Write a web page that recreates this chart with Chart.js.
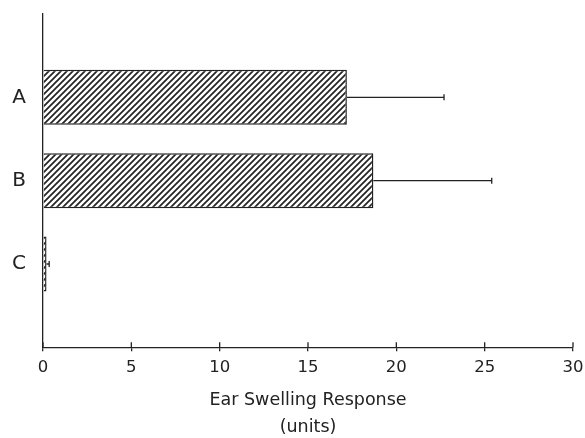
<!DOCTYPE html>
<html>
<head>
<meta charset="utf-8">
<script src="https://cdn.jsdelivr.net/npm/chart.js@4/dist/chart.umd.min.js"></script>
<style>
  body { margin: 0; background: #fff; }
</style>
</head>
<body>
<canvas id="myChart" width="585" height="438"></canvas>
<script>
// values
const categories = ['A', 'B', 'C'];
const means = [17.2, 18.7, 0.2];
const errors = [5.5, 6.7, 0.15];
const xTicks = [0, 5, 10, 15, 20, 25, 30];

// empty slots above and below so the bars sit like the original
const labels = ['', ...categories, ''];
const barData = [null, ...means, null];
const errData = [null, ...errors, null];

const ink = '#222';
const fontFamily = '"DejaVu Sans", sans-serif';

// diagonal hatch fill
function hatch() {
    let c = document.createElement('canvas');
    c.width = 6;
    c.height = 6;
    let g = c.getContext('2d');
    g.fillStyle = '#fff';
    g.fillRect(0, 0, 6, 6);
    g.strokeStyle = ink;
    g.lineWidth = 1.7;
    g.beginPath();
    g.moveTo(-1, 7); g.lineTo(7, -1);
    g.moveTo(-4, 4); g.lineTo(4, -4);
    g.moveTo(2, 10); g.lineTo(10, 2);
    g.stroke();
    return g.createPattern(c, 'repeat');
}

// horizontal error bars (right side only) + tick marks poking above the x axis
const errorBars = {
    id: 'errorBars',
    afterDatasetsDraw(chart) {
        let ctx = chart.ctx;
        let xScale = chart.scales.x;
        let meta = chart.getDatasetMeta(0);
        ctx.save();
        ctx.strokeStyle = ink;
        ctx.lineWidth = 1.3;
        meta.data.forEach((bar, i) => {
            if (barData[i] == null) return;
            let x0 = xScale.getPixelForValue(barData[i]);
            let x1 = xScale.getPixelForValue(barData[i] + errData[i]);
            ctx.beginPath();
            ctx.moveTo(x0, bar.y);
            ctx.lineTo(x1, bar.y);
            ctx.moveTo(x1, bar.y - 3);
            ctx.lineTo(x1, bar.y + 3);
            ctx.stroke();
        });
        let yAxis = xScale.top;
        ctx.beginPath();
        xTicks.forEach(v => {
            let x = xScale.getPixelForValue(v);
            ctx.moveTo(x, yAxis);
            ctx.lineTo(x, yAxis - 5);
        });
        ctx.stroke();
        ctx.restore();
    }
};

let myChart = document.getElementById('myChart').getContext('2d');

let swellChart = new Chart(myChart, {
    type: 'bar',
    data: {
        labels: labels,
        datasets: [{
            data: barData,
            backgroundColor: hatch(),
            borderColor: ink,
            borderWidth: 1.5,
            categoryPercentage: 0.66,
            barPercentage: 1
        }]
    },
    options: {
        indexAxis: 'y',
        responsive: false,
        animation: false,
        layout: {
            padding: { top: 14, right: 12, left: 0, bottom: -3 }
        },
        plugins: {
            legend: { display: false },
            tooltip: { enabled: false }
        },
        scales: {
            x: {
                min: 0,
                max: 30,
                afterBuildTicks: axis => { axis.ticks = xTicks.map(v => ({ value: v })); },
                afterFit: scale => {
                    scale.paddingRight = 0;
                    scale.paddingLeft = 0;
                },
                grid: {
                    drawOnChartArea: false,
                    drawTicks: true,
                    tickLength: 4,
                    color: ink,
                    lineWidth: 1.3
                },
                border: { display: true, color: ink, width: 1.3 },
                ticks: {
                    color: ink,
                    padding: 7,
                    font: { family: fontFamily, size: 16.5 }
                },
                title: {
                    display: true,
                    text: ['Ear Swelling Response', '(units)'],
                    color: ink,
                    padding: { top: 2, bottom: 0 },
                    font: { family: fontFamily, size: 17.5, lineHeight: 1.54 }
                }
            },
            y: {
                offset: false,
                afterFit: scale => {
                    scale.width = 43;
                    scale.paddingTop = 0;
                    scale.paddingBottom = 0;
                },
                grid: { display: false, drawTicks: false },
                border: { display: true, color: ink, width: 1.3 },
                ticks: {
                    color: ink,
                    padding: 17,
                    font: { family: fontFamily, size: 20 }
                }
            }
        }
    },
    plugins: [errorBars]
});
</script>
</body>
</html>
